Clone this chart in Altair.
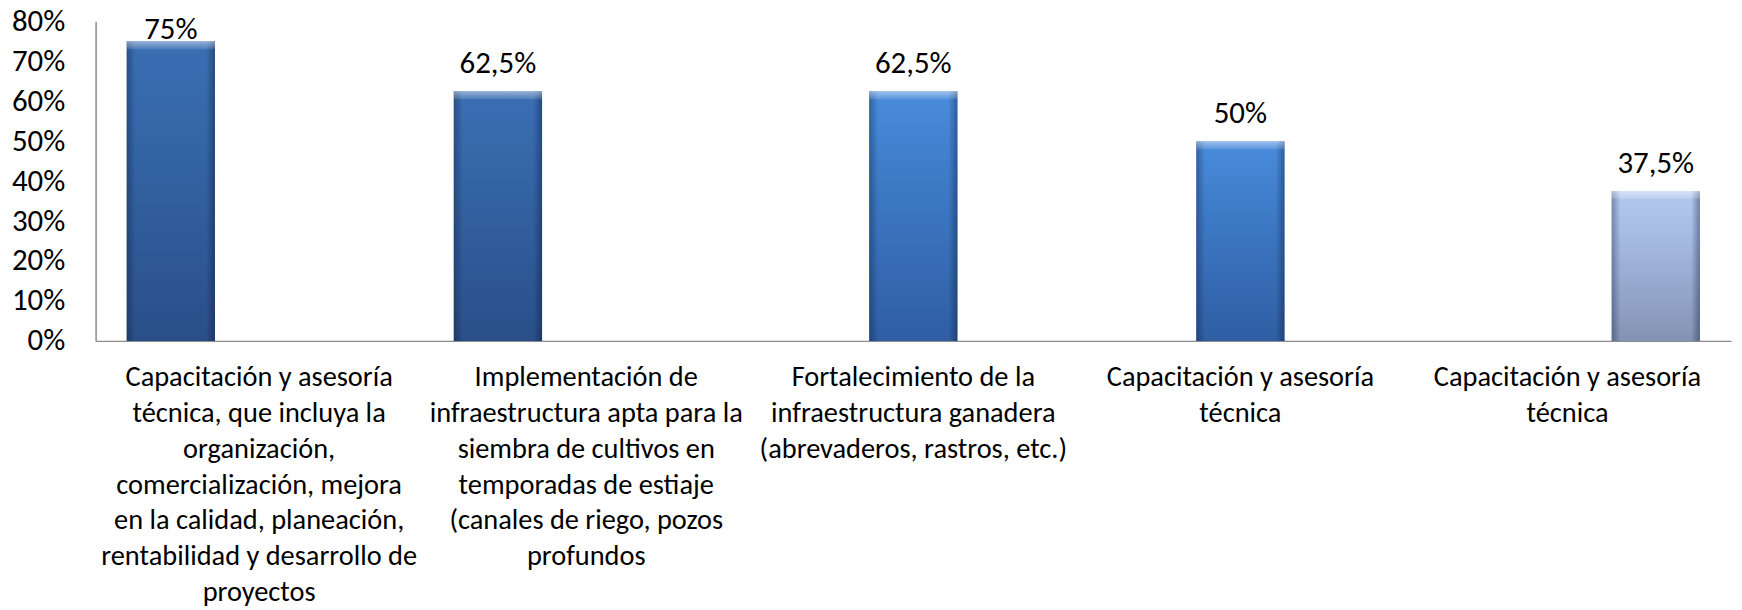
import json
import altair as alt
import pandas as pd

# ---- data ----
category_lines = [
    ["Capacitación y asesoría", "técnica, que incluya la", "organización,",
     "comercialización, mejora", "en la calidad, planeación,",
     "rentabilidad y desarrollo de", "proyectos"],
    ["Implementación de", "infraestructura apta para la", "siembra de cultivos en",
     "temporadas de estiaje", "(canales de riego, pozos", "profundos"],
    ["Fortalecimiento de la", "infraestructura ganadera", "(abrevaderos, rastros, etc.)"],
    ["Capacitación y asesoría", "técnica"],
    ["Capacitación y asesoría", "técnica"],
]
values = [0.75, 0.625, 0.625, 0.50, 0.375]
value_labels = ["75%", "62,5%", "62,5%", "50%", "37,5%"]
series = ["Serie 1", "Serie 1", "Serie 2", "Serie 2", "Serie 3"]
series_order = ["Serie 1", "Serie 2", "Serie 3"]
y_ticks = [0, 0.1, 0.2, 0.3, 0.4, 0.5, 0.6, 0.7, 0.8]

df = pd.DataFrame({
    "key": [str(i) for i in range(len(values))],
    "value": values,
    "label": value_labels,
    "series": series,
})

FONT = "Carlito, Lato, sans-serif"

label_expr = json.dumps(category_lines, ensure_ascii=False) + "[toNumber(datum.value)]"

x_enc = alt.X(
    "key:N", sort=None, title=None,
    scale=alt.Scale(paddingInner=0.19, paddingOuter=0.095),
    axis=alt.Axis(labelExpr=label_expr, labelAngle=0, ticks=False, grid=False,
                  labelPadding=22, labelLimit=0, labelLineHeight=36,
                  labelFontSize=28.5, labelFont=FONT, labelColor="#000000",
                  domainColor="#8c8c8c", domainWidth=1.5, labelBaseline="top"),
)
xo_enc = alt.XOffset("series:N", scale=alt.Scale(domain=series_order, paddingInner=0, paddingOuter=0))

y_scale = alt.Scale(domain=[0, 0.8], nice=False)
y_axis = alt.Axis(values=y_ticks, format=".0%", ticks=False, grid=False,
                  labelPadding=31, labelFontSize=31, labelFont=FONT,
                  labelColor="#000000", domainColor="#8c8c8c", domainWidth=1.5)
y_enc = alt.Y("value:Q", title=None, scale=y_scale, axis=y_axis)


def vgrad(top, mid, bottom):
    return alt.Gradient(
        gradient="linear", x1=0, x2=0, y1=0, y2=1,
        stops=[alt.GradientStop(color=top, offset=0),
               alt.GradientStop(color=mid, offset=0.3),
               alt.GradientStop(color=bottom, offset=1)],
    )


fills = {
    "Serie 1": vgrad("#3a6fb3", "#3566a8", "#2a4f88"),
    "Serie 2": vgrad("#4a8ddc", "#3f7dca", "#2f5ea3"),
    "Serie 3": vgrad("#b4c9ee", "#a6bbe2", "#8393b5"),
}

base = alt.Chart(df)

layers = []
for s in series_order:
    layers.append(
        base.transform_filter(alt.datum.series == s)
        .mark_bar(fill=fills[s])
        .encode(x=x_enc, xOffset=xo_enc, y=y_enc)
    )

# darker side edges
edge_grad = alt.Gradient(
    gradient="linear", x1=0, x2=1, y1=0, y2=0,
    stops=[alt.GradientStop(color="rgba(10,20,50,0.35)", offset=0),
           alt.GradientStop(color="rgba(10,20,50,0)", offset=0.1),
           alt.GradientStop(color="rgba(10,20,50,0)", offset=0.9),
           alt.GradientStop(color="rgba(10,20,50,0.4)", offset=1)],
)
edges = base.mark_bar(fill=edge_grad).encode(x=x_enc, xOffset=xo_enc, y=y_enc)

# light bevel at the top of each bar
bevel = (
    base.transform_calculate(bev="datum.value - 0.02")
    .mark_bar(fill=alt.Gradient(
        gradient="linear", x1=0, x2=0, y1=0, y2=1,
        stops=[alt.GradientStop(color="rgba(255,255,255,0.45)", offset=0),
               alt.GradientStop(color="rgba(255,255,255,0.1)", offset=1)]))
    .encode(x=x_enc, xOffset=xo_enc, y=y_enc, y2="bev:Q")
)

text = (
    base.transform_calculate(pos="min(datum.value, 0.712)")
    .mark_text(font=FONT, fontSize=31, color="#000000", baseline="alphabetic", dy=-18)
    .encode(x=x_enc, xOffset=xo_enc,
            y=alt.Y("pos:Q", title=None, scale=y_scale, axis=y_axis),
            text="label:N")
)

chart = (
    alt.layer(*layers, edges, bevel, text)
    .properties(width=1643, height=321,
                view=alt.ViewBackground(stroke="transparent", strokeWidth=0),
                autosize=alt.AutoSizeParams(type="none"),
                padding={"left": 88, "top": 12, "right": 3, "bottom": 280})
    .configure_view(strokeWidth=0, stroke="transparent")
    .configure(background="#ffffff")
)

chart.save("out.html", embed_options={"renderer": "svg", "actions": False})
